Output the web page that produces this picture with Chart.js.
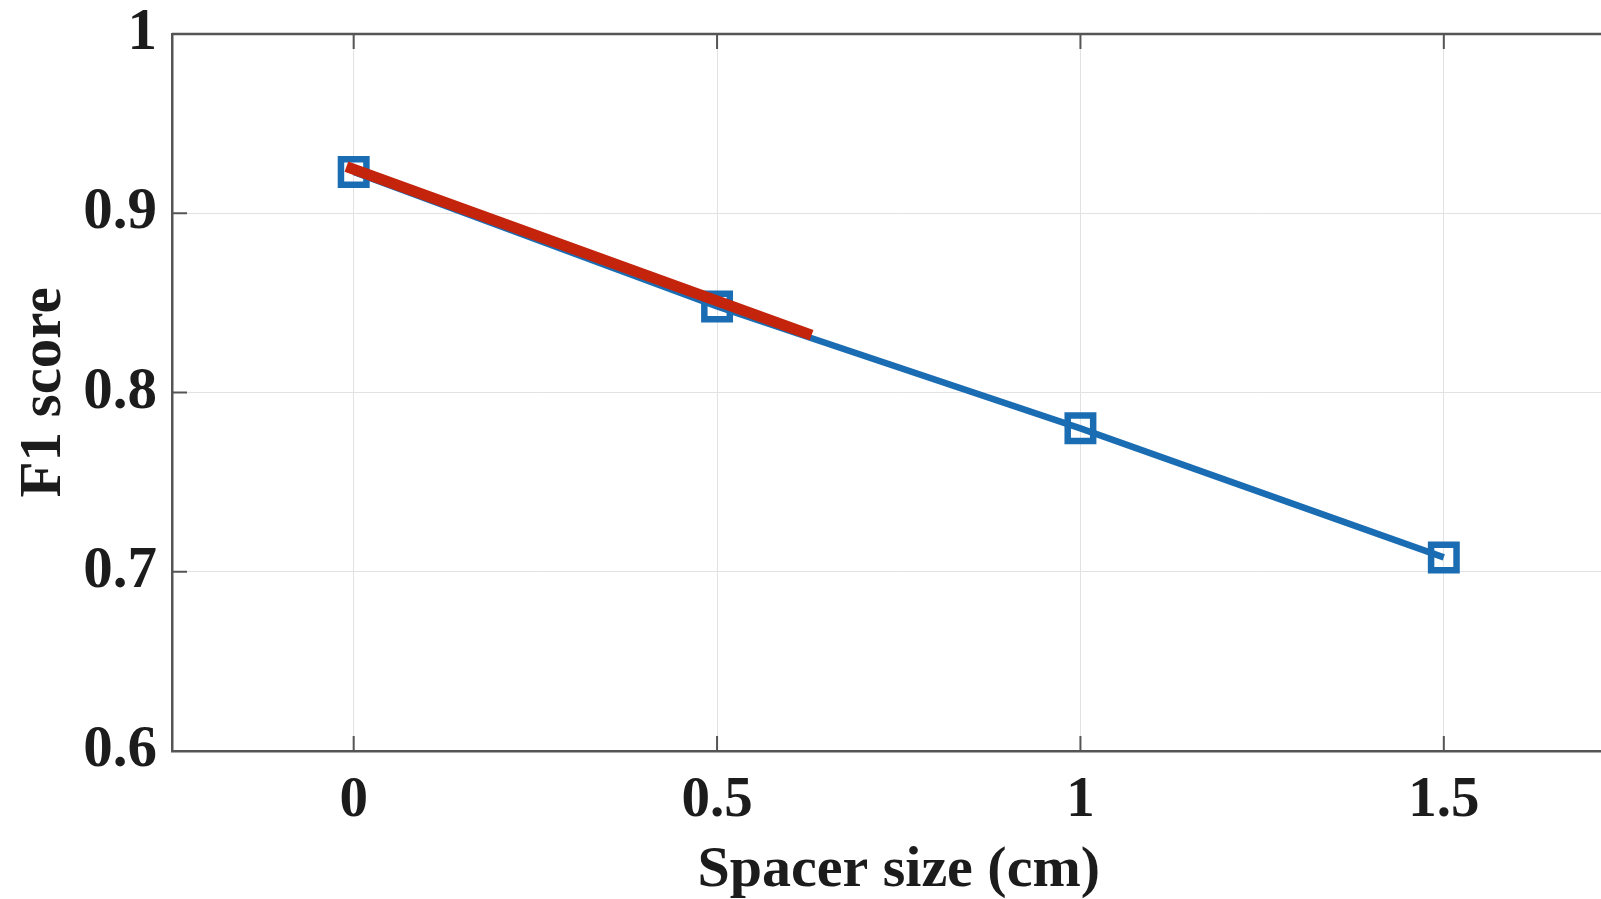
<!DOCTYPE html>
<html>
<head>
<meta charset="utf-8">
<script src="https://cdn.jsdelivr.net/npm/chart.js@4.4.1/dist/chart.umd.min.js"></script>
<style>
    html, body { margin: 0; padding: 0; background: #fff; overflow: hidden; }
    #wrap { width: 1650px; height: 899px; }
</style>
</head>
<body>
<div id="wrap"><canvas id="f1Chart" width="1650" height="899"></canvas></div>
<script>
// Số liệu
var spacerSizes = [0, 0.5, 1, 1.5];
var f1Scores = [0.923, 0.848, 0.780, 0.708];
// đường đỏ (xu hướng) - 2 đầu mút
var trendX = [-0.01, 0.63];
var trendY = [0.926, 0.832];
var xTicks = [0, 0.5, 1, 1.5];
var yTicks = [0.6, 0.7, 0.8, 0.9, 1];

var fontFamily = '"Liberation Serif", "Times New Roman", serif';
var axisColor = '#555555';
var textColor = '#1c1c1c';

// Vẽ khung trên + vạch tick hướng vào trong (kiểu MATLAB)
var boxTicks = {
    id: 'boxTicks',
    afterDraw: function (chart) {
        var ctx = chart.ctx;
        var area = chart.chartArea;
        var xs = chart.scales.x, ys = chart.scales.y;
        var len = 15;
        ctx.save();
        ctx.strokeStyle = axisColor;
        ctx.lineWidth = 2.5;
        ctx.beginPath();
        ctx.moveTo(area.left, area.top);
        ctx.lineTo(area.right, area.top);
        ctx.lineTo(area.right, area.bottom);
        ctx.stroke();
        ctx.lineWidth = 2;
        ctx.beginPath();
        xTicks.forEach(function (v) {
            var px = xs.getPixelForValue(v);
            ctx.moveTo(px, area.bottom);
            ctx.lineTo(px, area.bottom - len);
            ctx.moveTo(px, area.top);
            ctx.lineTo(px, area.top + len);
        });
        yTicks.forEach(function (v) {
            var py = ys.getPixelForValue(v);
            ctx.moveTo(area.left, py);
            ctx.lineTo(area.left + len, py);
            ctx.moveTo(area.right, py);
            ctx.lineTo(area.right - len, py);
        });
        ctx.stroke();
        ctx.restore();
    }
};

new Chart(document.getElementById('f1Chart'), {
    type: 'line',
    data: {
        datasets: [{
                label: 'F1',
                data: spacerSizes.map(function (x, i) { return {x: x, y: f1Scores[i]}; }),
                borderColor: '#1b6db3',
                borderWidth: 6.5,
                pointStyle: 'rect',
                pointRadius: 18,
                pointBorderWidth: 6.5,
                pointBorderColor: '#1b6db3',
                pointBackgroundColor: 'rgba(0,0,0,0)',
                tension: 0,
                order: 1
            }, {
                label: 'trend',
                data: trendX.map(function (x, i) { return {x: x, y: trendY[i]}; }),
                borderColor: '#c4240c',
                borderWidth: 11,
                borderCapStyle: 'butt',
                pointRadius: 0,
                tension: 0,
                order: 0
            }]
    },
    options: {
        responsive: false,
        animation: false,
        devicePixelRatio: 1,
        layout: {padding: {left: 0, top: 34, right: 15, bottom: 0}},
        plugins: {
            legend: {display: false},
            tooltip: {enabled: false}
        },
        scales: {
            x: {
                type: 'linear',
                min: -0.25,
                max: 1.75,
                afterBuildTicks: function (scale) {
                    scale.ticks = xTicks.map(function (v) { return {value: v}; });
                },
                afterFit: function (scale) {
                    scale.height = 148;
                    scale.paddingLeft = 0;
                    scale.paddingRight = 0;
                },
                grid: {color: '#e2e2e2', lineWidth: 1, drawTicks: false},
                border: {display: true, color: axisColor, width: 2.5},
                ticks: {
                    padding: 16,
                    color: textColor,
                    font: {family: fontFamily, size: 57, weight: 'bold'},
                    callback: function (v) { return String(Number(v.toFixed(2))); }
                },
                title: {
                    display: true,
                    text: 'Spacer size (cm)',
                    color: textColor,
                    padding: {top: 0, bottom: -7},
                    font: {family: fontFamily, size: 58, weight: 'bold'}
                }
            },
            y: {
                type: 'linear',
                min: 0.6,
                max: 1,
                afterBuildTicks: function (scale) {
                    scale.ticks = yTicks.map(function (v) { return {value: v}; });
                },
                afterFit: function (scale) {
                    scale.width = 172;
                    scale.paddingTop = 0;
                    scale.paddingBottom = 0;
                },
                grid: {color: '#e2e2e2', lineWidth: 1, drawTicks: false},
                border: {display: true, color: axisColor, width: 2.5},
                ticks: {
                    padding: 15,
                    color: textColor,
                    font: {family: fontFamily, size: 59, weight: 'bold'},
                    callback: function (v) { return String(Number(v.toFixed(2))); }
                },
                title: {
                    display: true,
                    text: 'F1 score',
                    color: textColor,
                    padding: {top: 9, bottom: 0},
                    font: {family: fontFamily, size: 59, weight: 'bold'}
                }
            }
        }
    },
    plugins: [boxTicks]
});
</script>
</body>
</html>
